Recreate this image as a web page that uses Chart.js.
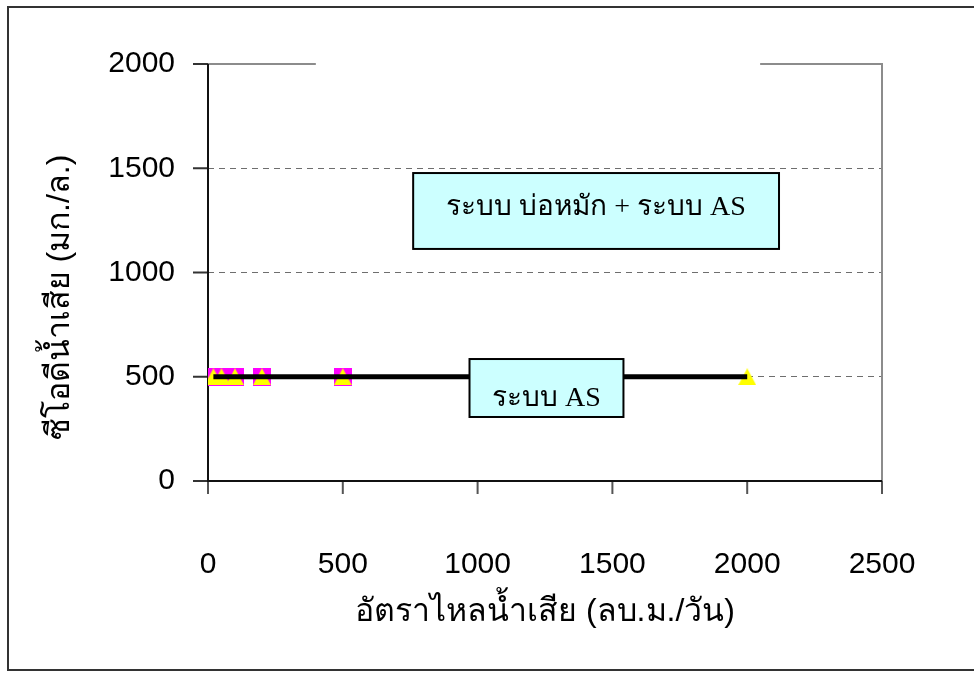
<!DOCTYPE html>
<html><head><meta charset="utf-8">
<script src="https://cdn.jsdelivr.net/npm/chart.js@4/dist/chart.umd.min.js"></script>
<style>html,body{margin:0;padding:0;background:#fff;} #wrap{width:974px;height:675px;position:relative;}</style>
</head><body><div id="wrap"><canvas id="c" width="974" height="675"></canvas></div>
<script>
// ---- data ----
const flowSquares = [20, 50, 100, 200, 500, 1000];
const codSquares = [500, 500, 500, 500, 500, 500];
const flowTriangles = [20, 50, 100, 200, 500, 1000, 2000];
const codTriangles = [500, 500, 500, 500, 500, 500, 500];
const lineFlow = [20, 2000];
const lineCod = [500, 500];
const xTickValues = [0, 500, 1000, 1500, 2000, 2500];
const yTickValues = [0, 500, 1000, 1500, 2000];
const xTitle = 'อัตราไหลน้ำเสีย (ลบ.ม./วัน)';
const yTitle = 'ซีโอดีน้ำเสีย (มก./ล.)';
const boxTexts = ['ระบบ บ่อหมัก + ระบบ AS', 'ระบบ AS'];

// ---- annotation layout (data units) ----
const boxLayout = [
  {x0: 761, x1: 2118, y0: 1477, y1: 1113, ty: 1309},
  {x0: 970, x1: 1541, y0: 585, y1: 307, ty: 395}
];
const topGap = [400, 2048];

const sansFont = "'Liberation Sans', 'Noto Sans', 'DejaVu Sans', sans-serif";
const serifFont = "'Liberation Serif', 'DejaVu Serif', serif";

function marker(shape, color, w, h) {
  const c = document.createElement('canvas');
  c.width = w; c.height = h;
  const g = c.getContext('2d');
  g.fillStyle = color;
  if (shape === 'square') { g.fillRect(0, 0, w, h); }
  else { g.beginPath(); g.moveTo(w / 2, 0); g.lineTo(w, h); g.lineTo(0, h); g.closePath(); g.fill(); }
  return c;
}
const sq = marker('square', '#FF00FF', 18, 18);
const tri = marker('tri', '#FFFF00', 18, 17);

const deco = {
  id: 'deco',
  beforeDraw(chart) {
    const ctx = chart.ctx;
    ctx.save();
    ctx.strokeStyle = '#333';
    ctx.lineWidth = 2;
    ctx.beginPath();
    ctx.moveTo(974, 7); ctx.lineTo(8, 7); ctx.lineTo(8, 670); ctx.lineTo(974, 670);
    ctx.stroke();
    ctx.restore();
  },
  beforeDatasetsDraw(chart) {
    const {ctx, chartArea: a, scales: {x, y}} = chart;
    ctx.save();
    ctx.strokeStyle = '#8c8c8c';
    ctx.lineWidth = 2;
    ctx.beginPath();
    ctx.moveTo(a.left, a.top); ctx.lineTo(x.getPixelForValue(topGap[0]), a.top);
    ctx.moveTo(x.getPixelForValue(topGap[1]), a.top); ctx.lineTo(a.right, a.top); ctx.lineTo(a.right, a.bottom);
    ctx.stroke();
    ctx.strokeStyle = '#555';
    ctx.lineWidth = 2;
    ctx.beginPath();
    xTickValues.forEach(v => { const px = x.getPixelForValue(v); ctx.moveTo(px, a.bottom); ctx.lineTo(px, a.bottom + 13); });
    ctx.stroke();
    ctx.strokeStyle = '#333';
    ctx.beginPath();
    yTickValues.forEach(v => { const py = y.getPixelForValue(v); ctx.moveTo(a.left - 15, py); ctx.lineTo(a.left, py); });
    ctx.stroke();
    ctx.strokeStyle = '#111';
    ctx.lineWidth = 2;
    ctx.beginPath();
    ctx.moveTo(a.left, a.top); ctx.lineTo(a.left, a.bottom); ctx.lineTo(a.right, a.bottom);
    ctx.stroke();
    ctx.translate(60, y.getPixelForValue(880));
    ctx.rotate(-Math.PI / 2);
    ctx.font = '32px ' + sansFont;
    ctx.fillStyle = '#000';
    ctx.textAlign = 'center';
    ctx.textBaseline = 'middle';
    ctx.fillText(yTitle, 0, 0);
    ctx.restore();
  },
  afterDatasetsDraw(chart) {
    const {ctx, scales: {x, y}} = chart;
    ctx.save();
    boxLayout.forEach((b, i) => {
      const l = x.getPixelForValue(b.x0), r = x.getPixelForValue(b.x1);
      const t = y.getPixelForValue(b.y0), bt = y.getPixelForValue(b.y1);
      ctx.fillStyle = '#CCFFFF';
      ctx.fillRect(l, t, r - l, bt - t);
      ctx.strokeStyle = '#000';
      ctx.lineWidth = 2;
      ctx.strokeRect(l, t, r - l, bt - t);
      ctx.fillStyle = '#000';
      ctx.font = '28px ' + serifFont;
      ctx.textAlign = 'center';
      ctx.textBaseline = 'middle';
      ctx.fillText(boxTexts[i], (l + r) / 2, y.getPixelForValue(b.ty));
    });
    ctx.restore();
  }
};

new Chart(document.getElementById('c'), {
  type: 'scatter',
  data: {
    datasets: [
      {
        type: 'line',
        data: lineFlow.map((v, i) => ({x: v, y: lineCod[i]})),
        borderColor: '#000', borderWidth: 5, pointRadius: 0, fill: false
      },
      {
        data: flowTriangles.map((v, i) => ({x: v, y: codTriangles[i]})),
        pointStyle: tri, pointRadius: 9, backgroundColor: '#FFFF00', borderWidth: 0
      },
      {
        data: flowSquares.map((v, i) => ({x: v, y: codSquares[i]})),
        pointStyle: sq, pointRadius: 9, backgroundColor: '#FF00FF', borderWidth: 0
      }
    ]
  },
  options: {
    responsive: false,
    animation: false,
    layout: {padding: {left: 0, top: 64, right: 92, bottom: 0}},
    plugins: {legend: {display: false}, tooltip: {enabled: false}},
    scales: {
      x: {
        type: 'linear', min: 0, max: 2500,
        afterBuildTicks: s => { s.ticks = xTickValues.map(v => ({value: v})); },
        afterFit: s => { s.height = 194; },
        grid: {display: true, drawOnChartArea: false, drawTicks: true, tickLength: 62, tickColor: 'rgba(0,0,0,0)', color: 'rgba(0,0,0,0)'},
        border: {display: false},
        ticks: {color: '#000', font: {family: sansFont, size: 30}, padding: 4, maxRotation: 0, callback: v => String(v)},
        title: {display: true, text: xTitle, color: '#000', font: {family: sansFont, size: 32}, padding: {top: 0, bottom: 44}}
      },
      y: {
        type: 'linear', min: 0, max: 2000,
        afterBuildTicks: s => { s.ticks = yTickValues.map(v => ({value: v})); },
        afterFit: s => { s.width = 208; },
        grid: {
          drawTicks: false,
          color: c => (c.tick && (c.tick.value === 0 || c.tick.value === 2000)) ? 'rgba(0,0,0,0)' : '#6e6e6e',
          lineWidth: 1
        },
        border: {display: false, dash: [6, 5]},
        ticks: {color: '#000', font: {family: sansFont, size: 30}, padding: 33, callback: v => String(v)}
      }
    }
  },
  plugins: [deco]
});
</script>
</body></html>
